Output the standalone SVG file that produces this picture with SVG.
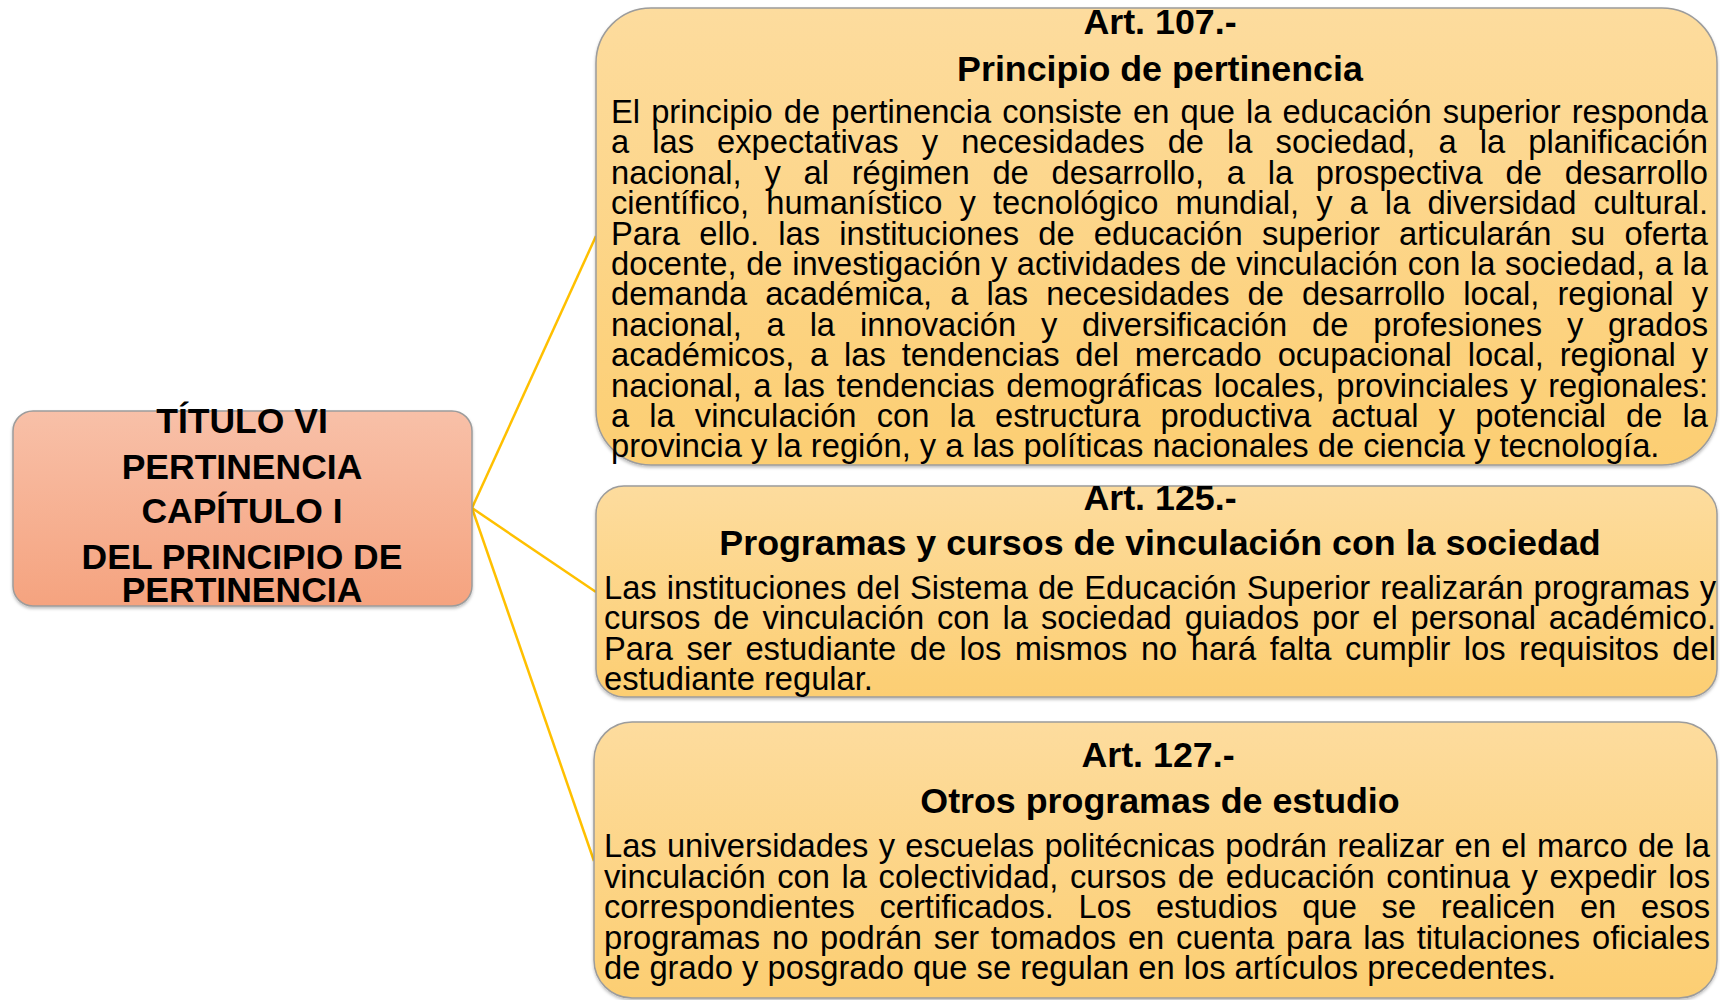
<svg xmlns="http://www.w3.org/2000/svg" width="1720" height="1000" viewBox="0 0 1720 1000">
<defs>
<linearGradient id="gOrange" x1="0" y1="0" x2="0" y2="1">
<stop offset="0" stop-color="#F8C0A8"/>
<stop offset="1" stop-color="#F5A37F"/>
</linearGradient>
<linearGradient id="gYellow" x1="0" y1="0" x2="0" y2="1">
<stop offset="0" stop-color="#FDDC9E"/>
<stop offset="1" stop-color="#FCCE72"/>
</linearGradient>
<filter id="sh" x="-5%" y="-5%" width="110%" height="115%">
<feDropShadow dx="0" dy="2" stdDeviation="1.5" flood-color="#000" flood-opacity="0.25"/>
</filter>
</defs>
<style>
.node{stroke:#9C9C9C;stroke-width:1.5;filter:url(#sh)}
.root{fill:url(#gOrange)}
.art{fill:url(#gYellow)}
.conn{stroke:#FFC000;stroke-width:2.5;fill:none}
.t{font-family:"Liberation Sans",Arial,sans-serif;fill:#000}
.big{font-size:35.5px;font-weight:bold;text-anchor:middle}
.h{font-size:35.8px;font-weight:bold;text-anchor:middle}
.b{font-size:32.7px}
</style>
<rect width="1720" height="1000" fill="#FFFFFF"/>
<g id="connectors">
<line class="conn" x1="472" y1="508" x2="596" y2="236"/>
<line class="conn" x1="472" y1="508" x2="596" y2="592"/>
<line class="conn" x1="472" y1="508" x2="594" y2="861"/>
</g>
<g id="root">
<rect class="node root" x="13" y="411" width="459" height="195" rx="20" ry="20"/>
<text class="t big" x="242" y="433">TÍTULO VI</text>
<text class="t big" x="242" y="479">PERTINENCIA</text>
<text class="t big" x="242" y="523">CAPÍTULO I</text>
<text class="t big" x="242" y="569">DEL PRINCIPIO DE</text>
<text class="t big" x="242" y="602">PERTINENCIA</text>
</g>
<g id="art107">
<rect class="node art" x="596" y="8" width="1121" height="457" rx="55" ry="55"/>
<text class="t h" x="1160" y="34">Art. 107.-</text>
<text class="t h" x="1160" y="81">Principio de pertinencia</text>
<g class="t b">
<text x="611" y="123" word-spacing="2" textLength="1097" lengthAdjust="spacing">El principio de pertinencia consiste en que la educación superior responda</text>
<text x="611" y="153.4" word-spacing="14" textLength="1097" lengthAdjust="spacing">a las expectativas y necesidades de la sociedad, a la planificación</text>
<text x="611" y="183.8" word-spacing="13.7" textLength="1097" lengthAdjust="spacing">nacional, y al régimen de desarrollo, a la prospectiva de desarrollo</text>
<text x="611" y="214.2" word-spacing="8" textLength="1097" lengthAdjust="spacing">científico, humanístico y tecnológico mundial, y a la diversidad cultural.</text>
<text x="611" y="244.6" word-spacing="10.2" textLength="1097" lengthAdjust="spacing">Para ello. las instituciones de educación superior articularán su oferta</text>
<text x="611" y="275" word-spacing="0.5" textLength="1097" lengthAdjust="spacing">docente, de investigación y actividades de vinculación con la sociedad, a la</text>
<text x="611" y="305.4" word-spacing="9" textLength="1097" lengthAdjust="spacing">demanda académica, a las necesidades de desarrollo local, regional y</text>
<text x="611" y="335.8" word-spacing="15.8" textLength="1097" lengthAdjust="spacing">nacional, a la innovación y diversificación de profesiones y grados</text>
<text x="611" y="366.2" word-spacing="6.8" textLength="1097" lengthAdjust="spacing">académicos, a las tendencias del mercado ocupacional local, regional y</text>
<text x="611" y="396.6" word-spacing="2.6" textLength="1097" lengthAdjust="spacing">nacional, a las tendencias demográficas locales, provinciales y regionales:</text>
<text x="611" y="427" word-spacing="11" textLength="1097" lengthAdjust="spacing">a la vinculación con la estructura productiva actual y potencial de la</text>
<text x="611" y="457.4">provincia y la región, y a las políticas nacionales de ciencia y tecnología.</text>
</g>
</g>
<g id="art125">
<rect class="node art" x="596" y="486" width="1121" height="211" rx="28" ry="28"/>
<text class="t h" x="1160" y="510">Art. 125.-</text>
<text class="t h" x="1160" y="555">Programas y cursos de vinculación con la sociedad</text>
<g class="t b">
<text x="604" y="599" word-spacing="1" textLength="1112" lengthAdjust="spacing">Las instituciones del Sistema de Educación Superior realizarán programas y</text>
<text x="604" y="629" word-spacing="3.8" textLength="1112" lengthAdjust="spacing">cursos de vinculación con la sociedad guiados por el personal académico.</text>
<text x="604" y="659.5" word-spacing="4.4" textLength="1112" lengthAdjust="spacing">Para ser estudiante de los mismos no hará falta cumplir los requisitos del</text>
<text x="604" y="690">estudiante regular.</text>
</g>
</g>
<g id="art127">
<rect class="node art" x="594" y="722" width="1123" height="276" rx="38" ry="38"/>
<text class="t h" x="1158" y="767">Art. 127.-</text>
<text class="t h" x="1160" y="813">Otros programas de estudio</text>
<g class="t b">
<text x="604" y="857" word-spacing="1.3" textLength="1106" lengthAdjust="spacing">Las universidades y escuelas politécnicas podrán realizar en el marco de la</text>
<text x="604" y="887.5" word-spacing="2.5" textLength="1106" lengthAdjust="spacing">vinculación con la colectividad, cursos de educación continua y expedir los</text>
<text x="604" y="918" word-spacing="15.6" textLength="1106" lengthAdjust="spacing">correspondientes certificados. Los estudios que se realicen en esos</text>
<text x="604" y="948.5" word-spacing="2.7" textLength="1106" lengthAdjust="spacing">programas no podrán ser tomados en cuenta para las titulaciones oficiales</text>
<text x="604" y="979">de grado y posgrado que se regulan en los artículos precedentes.</text>
</g>
</g>
</svg>
